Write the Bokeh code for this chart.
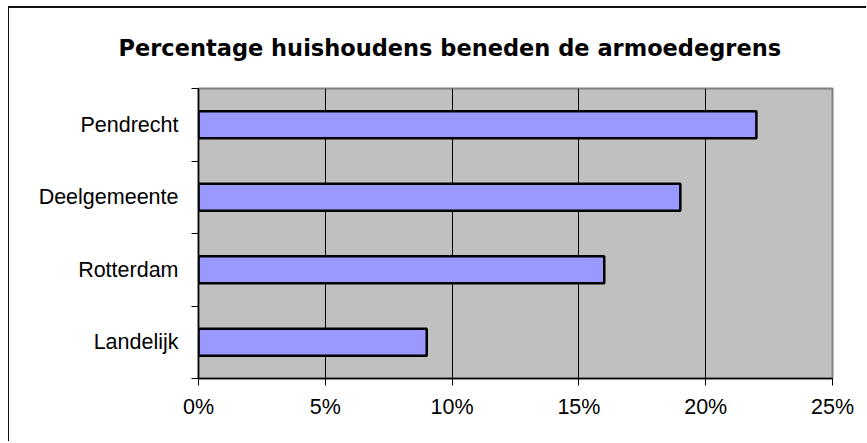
from bokeh.plotting import figure
from bokeh.models import FixedTicker, Range1d, Title
from bokeh.embed import file_html
from bokeh.resources import INLINE

# --- data -------------------------------------------------------------
title_text = "Percentage huishoudens beneden de armoedegrens"
categories = ["Pendrecht", "Deelgemeente", "Rotterdam", "Landelijk"]  # top to bottom
values = [22, 19, 16, 9]  # percent
x_ticks = [0, 5, 10, 15, 20, 25]
x_tick_labels = ["0%", "5%", "10%", "15%", "20%", "25%"]

n = len(categories)
y_pos = [n - 0.5 - i for i in range(n)]

p = figure(
    width=858, height=435,
    output_backend="svg", toolbar_location=None,
    x_range=Range1d(x_ticks[0], x_ticks[-1]),
    y_range=Range1d(0, n),
    min_border_left=189, min_border_right=35,
    min_border_top=80, min_border_bottom=65,
    background_fill_color="#C0C0C0",
    border_fill_color="white",
)
p.styles = {"margin-left": "8px", "margin-top": "6px",
            "border-top": "2px solid #111111", "border-left": "1px solid #111111"}

p.outline_line_color = "#808080"
p.outline_line_width = 2

p.hbar(y=y_pos, right=values, left=0, height=0.37,
       fill_color="#9999FF", line_color="black", line_width=2.5)

# title
t = Title(text=title_text, align="left", offset=-80, vertical_align="top",
          text_font="DejaVu Sans", text_font_style="bold",
          text_font_size="22.5px", text_color="black", standoff=52)
p.title = t

# x axis
xa = p.xaxis[0]
xa.ticker = FixedTicker(ticks=x_ticks)
xa.major_label_overrides = {tk: lb for tk, lb in zip(x_ticks, x_tick_labels)}
xa.axis_line_color = "black"
xa.axis_line_width = 1.5
xa.major_tick_line_color = "black"
xa.major_tick_out = 7
xa.major_tick_in = 0
xa.minor_tick_out = 0
xa.minor_tick_in = 0
xa.major_label_text_font = "Liberation Sans"
xa.major_label_text_font_size = "21.5px"
xa.major_label_text_color = "black"
xa.major_label_standoff = 9

# y axis
ya = p.yaxis[0]
ya.ticker = FixedTicker(ticks=y_pos, minor_ticks=list(range(n + 1)))
ya.major_label_overrides = {yv: c for yv, c in zip(y_pos, categories)}
ya.axis_line_color = "black"
ya.axis_line_width = 1.5
ya.major_tick_out = 0
ya.major_tick_in = 0
ya.minor_tick_out = 7
ya.minor_tick_in = 0
ya.minor_tick_line_color = "black"
ya.major_label_text_font = "Liberation Sans"
ya.major_label_text_font_size = "21.5px"
ya.major_label_text_color = "black"
ya.major_label_standoff = 13

# grid
p.xgrid[0].ticker = FixedTicker(ticks=x_ticks[1:-1])
p.xgrid[0].grid_line_color = "black"
p.xgrid[0].grid_line_width = 1
p.ygrid[0].grid_line_color = None

open("out.html", "w").write(file_html(p, INLINE))
